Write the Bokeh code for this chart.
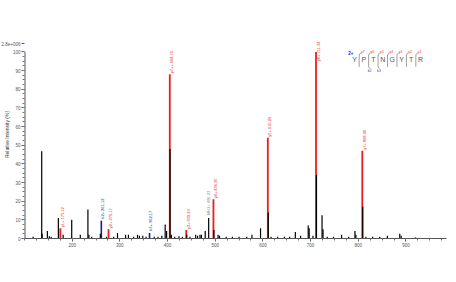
from math import pi
from bokeh.plotting import figure
from bokeh.models import ColumnDataSource, FixedTicker, Range1d
from bokeh.core.properties import value
from bokeh.embed import file_html
from bokeh.resources import INLINE

# ---------------- data ----------------
# unannotated (black) peaks: m/z, relative intensity (%)
other_mz = [118, 136.08, 137.08, 148, 152, 156, 171, 181, 199, 217, 233, 235, 241, 259, 272, 287,
            295, 312, 318, 329, 337, 341, 348, 355, 372, 380, 388, 395, 398, 405.2, 408, 415, 424,
            431, 440.23, 447, 459, 463, 468, 471, 479, 486.23, 497.25, 506, 509, 523, 536, 550,
            566, 577, 595, 611.29, 617, 631, 645, 656, 668, 679, 695, 697, 705, 712.34, 724, 726,
            735, 748, 765, 780, 793, 795, 809.4, 816, 830, 845, 861, 887, 890, 920]
other_int = [1, 46.8, 2.5, 4, 1.2, 1, 11, 2, 10, 2, 15.5, 2, 1, 2.5, 1, 1,
             3, 2, 2, 1, 2, 1.5, 1.5, 1, 1, 1, 1.5, 7.5, 4, 48, 2, 1, 1.2,
             1, 2, 1, 2, 1.5, 2, 2, 4, 11, 4.5, 2, 1.5, 1, 1, 1,
             1, 2, 5.5, 14, 1, 1, 1, 1, 3.5, 1.5, 7, 5.5, 1.5, 34, 12.5, 5,
             1, 1, 2, 1, 4, 2, 17, 1, 1, 1, 1.5, 2.5, 1.5, 0.6]

# y ions (red)
y_mz = [175.12, 276.17, 404.70, 439.23, 496.25, 610.29, 711.34, 808.40]
y_int = [5.5, 5, 88, 4.5, 21, 54, 100, 47]
y_lab = ["y1+ 175.12", "y2+ 276.17", "y7++ 404.70", "y3+ 439.23", "y4+ 496.25",
         "y5+ 610.29", "y6+ 711.34", "y7+ 808.40"]

# b ions (blue)
b_mz = [261.12, 362.17]
b_int = [9.5, 3]
b_lab = ["b2+ 261.12", "b3+ 362.17"]

# precursor (grey label)
pre_mz = [486.23]
pre_int = [11]
pre_lab = ["MH2+ 486.23"]

x_ticks = [200, 300, 400, 500, 600, 700, 800, 900]
y_ticks = [0, 10, 20, 30, 40, 50, 60, 70, 80, 90, 100]
scale_label = "2.8e+006"
y_title = "Relative Intensity (%)"

sequence = ["Y", "P", "T", "N", "G", "Y", "T", "R"]
charge = "2+"
y_ion_names = ["y7", "y6", "y5", "y4", "y3", "y2", "y1"]
b_ion_names = ["", "b2", "b3", "", "", "", ""]

# ---------------- figure ----------------
FONT = "Liberation Sans"
LABEL_CAP = 94.5     # labels of very tall peaks are pulled down beside the peak
SCALE_POS = 104.3    # vertical position of the absolute-scale note above the y axis
X0, X1 = 100, 985
p = figure(width=456, height=282, output_backend="svg", toolbar_location=None,
           x_range=Range1d(X0, X1), y_range=Range1d(0, 111.5),
           min_border_left=24, min_border_right=10, min_border_top=30, min_border_bottom=44)
p.outline_line_color = None
p.xgrid.visible = False
p.ygrid.visible = False
p.background_fill_color = "white"

# axes
xa = p.xaxis[0]
xa.ticker = FixedTicker(ticks=x_ticks, minor_ticks=[X0 + 25 * i for i in range(36)])
ya = p.yaxis[0]
ya.ticker = FixedTicker(ticks=y_ticks + [SCALE_POS], minor_ticks=[2.5 * i for i in range(41)])
ya.bounds = (0, SCALE_POS)
ya.major_label_overrides = {SCALE_POS: scale_label}
for ax in (xa, ya):
    ax.axis_line_color = "#555555"
    ax.major_tick_line_color = "#555555"
    ax.minor_tick_line_color = "#777777"
    ax.major_tick_in = 0
    ax.major_tick_out = 3
    ax.minor_tick_in = 0
    ax.minor_tick_out = 2
    ax.major_label_text_font_size = "4.5px"
    ax.major_label_text_color = "#555555"
    ax.major_label_text_font = FONT
    ax.major_label_standoff = 1
ya.axis_line_color = None
ya.axis_label = y_title
ya.axis_label_text_font_size = "5px"
ya.axis_label_text_font_style = "normal"
ya.axis_label_text_font = FONT
ya.axis_label_text_color = "#333333"
ya.axis_label_standoff = -11
# y axis line drawn only up to 100 %
p.segment(x0=[X0], y0=[min(y_ticks)], x1=[X0], y1=[max(y_ticks)], line_color="#555555", line_width=2)

# peaks
src_o = ColumnDataSource(dict(x=other_mz, h=other_int, z=[0] * len(other_mz)))
src_y = ColumnDataSource(dict(x=y_mz, h=y_int, z=[0] * len(y_mz), t=y_lab,
                              ly=[min(v, LABEL_CAP) for v in y_int]))
src_b = ColumnDataSource(dict(x=b_mz, h=b_int, z=[0] * len(b_mz), t=b_lab))
src_p = ColumnDataSource(dict(x=pre_mz, h=pre_int, t=pre_lab))

p.segment(x0="x", y0="z", x1="x", y1="h", source=src_y, line_color="#ee1c1c", line_width=1.8)
p.segment(x0="x", y0="z", x1="x", y1="h", source=src_b, line_color="#1a1a8c", line_width=1.6)
p.segment(x0="x", y0="z", x1="x", y1="h", source=src_o, line_color="black", line_width=1.2)

# peak labels
p.text(x="x", y="ly", text="t", source=src_y, angle=pi / 2, text_align="left", text_baseline="middle",
       text_font=value(FONT), text_font_size="4px", text_color="#ee1c1c", y_offset=-1, x_offset=2)
p.text(x="x", y="h", text="t", source=src_b, angle=pi / 2, text_align="left", text_baseline="middle",
       text_font=value(FONT), text_font_size="4px", text_color="#1a1a8c", y_offset=-2, x_offset=1)
p.text(x="x", y="h", text="t", source=src_p, angle=pi / 2, text_align="left", text_baseline="middle",
       text_font=value(FONT), text_font_size="4px", text_color="#888888", y_offset=-3, x_offset=0)

# peptide sequence annotation
SEQ_X0, SEQ_STEP, SEQ_Y = 792, 19.8, 95.7
lx = [SEQ_X0 + SEQ_STEP * i for i in range(len(sequence))]
p.text(x=lx, y=[SEQ_Y] * len(sequence), text=sequence, text_align="center", text_baseline="middle",
       text_font=value(FONT), text_font_size="7px", text_color="#555555")
p.text(x=[SEQ_X0 - 13], y=[99.6], text=[charge], text_align="left", text_baseline="middle",
       text_font=value(FONT), text_font_size="4.5px", text_color="#2020e0", text_font_style="bold")
gx = [SEQ_X0 + SEQ_STEP * (i + 0.5) for i in range(len(sequence) - 1)]
p.segment(x0=gx, y0=[92.0] * len(gx), x1=gx, y1=[98.4] * len(gx), line_color="#888888", line_width=0.8)
p.segment(x0=gx, y0=[98.4] * len(gx), x1=[g + 3.5 for g in gx], y1=[99.6] * len(gx),
          line_color="#888888", line_width=0.8)
p.text(x=[g + 4 for g in gx], y=[100.2] * len(gx), text=y_ion_names, text_align="left",
       text_baseline="middle", text_font=value(FONT), text_font_size="3.5px", text_color="#ee3030")
bx = [g for g, n in zip(gx, b_ion_names) if n]
bn = [n for n in b_ion_names if n]
p.segment(x0=bx, y0=[92.0] * len(bx), x1=[g + 3 for g in bx], y1=[91.0] * len(bx),
          line_color="#888888", line_width=0.8)
p.text(x=[g + 2 for g in bx], y=[90.0] * len(bx), text=bn, text_align="center", text_baseline="middle",
       text_font=value(FONT), text_font_size="3.5px", text_color="#4040c0")

open("out.html", "w").write(file_html(p, INLINE))
